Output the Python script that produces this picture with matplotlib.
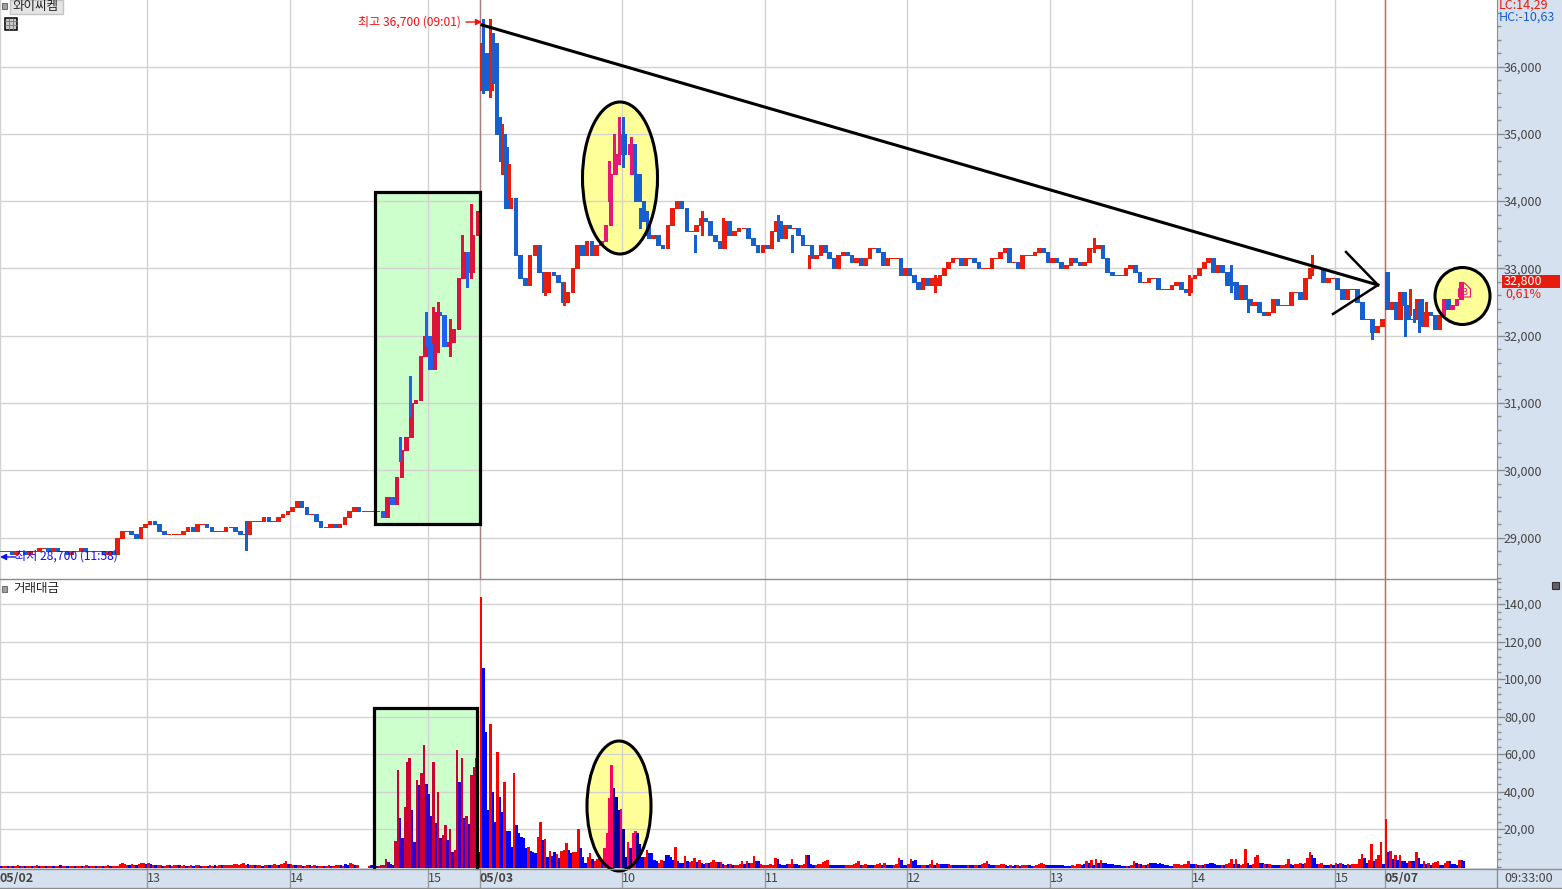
import numpy as np
import matplotlib
matplotlib.use("Agg")
import matplotlib.pyplot as plt
from matplotlib.patches import Rectangle, Ellipse, Polygon
from matplotlib.transforms import Affine2D
from matplotlib.ticker import MultipleLocator, FixedLocator

plt.rcParams['font.family'] = ['Noto Sans CJK KR', 'DejaVu Sans']

# ---------- sessions: (start minute, end minute) on the bar axis ----------
span_0212 = (0, 62)
span_0213 = (62, 122)
span_0214 = (122, 180)
span_0215 = (180, 202)
span_0309 = (202, 262)
span_0310 = (262, 322)
span_0311 = (322, 382)
span_0312 = (382, 442)
span_0313 = (442, 502)
span_0314 = (502, 562)
span_0315 = (562, 583)
span_0709 = (583, 616)

# ---------- closes ----------
close_0212 = [28800,28800,28750,28800,28800,28750,28800,28800,28850,28850,28800,28850,28800,28800,28750,28800,
              28800,28850,28800,28800,28800,28800,28750,28800,28750,29000,29100,29100,29050,29000,29150,29200]
close_0213 = [29250,29200,29100,29050,29050,29050,29050,29100,29150,29100,29200,29200,29150,29100,29100,29100,
              29150,29150,29100,29050,29050,29250,29250,29250,29300,29250,29250,29300,29350,29400]
close_0214 = [29450,29550,29450,29350,29350,29250,29150,29150,29200,29150,29200,29300,29400,29450,29400,29400,
              29400,29400,29400,29300,29600,29500,29900,30300,30500,31000,31050,31700,32000]
close_0215 = [31500,32350,32300,31850,31900,32100,32850,33250,32950,33500,33850]
close_0309 = [36200,35650,36350,35000,34800,33900,34050,33200,32850,32750,33200,33350,32950,32650,32950,32900,
              32800,32500,32650,33000,33350,33200,33400,33200,33350,33400,33650,34400,34700,35000]
close_0310 = [34700,34850,34400,34000,33700,33450,33500,33350,33300,33650,33900,34000,33900,33550,33550,33650,
              33750,33700,33500,33400,33300,33700,33500,33550,33600,33600,33450,33350,33250,33350]
close_0311 = [33300,33550,33700,33450,33650,33600,33600,33500,33350,33350,33150,33200,33350,33250,33150,33000,
              33200,33250,33200,33100,33150,33050,33150,33300,33300,33250,33050,33150,33150,33150,32900,33000]
close_0312 = [32900,32800,32700,32850,32750,32850,32750,32900,33000,33100,33150,33150,33050,33150,33150,33100,
              33000,33000,33000,33150,33150,33250,33300,33100,33100,33000,33200,33200,33200,33250,33300,33250,33100]
close_0313 = [33150,33100,33000,33050,33150,33100,33050,33100,33300,33300,33350,33150,32950,32900,32900,32900,
              33000,33050,32950,32800,32800,32850,32850,32700,32700,32700,32750,32800,32700,32650,32850]
close_0314 = [32900,33000,33100,33150,32950,33050,32950,32750,32800,32550,32750,32550,32450,32500,32350,32300,
              32350,32550,32450,32450,32450,32650,32650,32550,32850,33000,33000,33000,32800,32850,32850]
close_0315 = [32700,32550,32700,32700,32500,32250,32250,32050,32150,32250]
close_0709 = [32400,32500,32250,32650,32450,32250,32250,32550,32150,32350,32300,32100,32300,32550,32400,32450,
              32550,32800]
open_0309 = 35800
open_0709 = 32950

# ---------- wicks: minute, low, high, rising ----------
wick_min  = [103,168,172,179,182,184,189,194,196,198,202,203,206,207,210,211,212,214,229,237,256,258,260,262,265,267,269,272,
             292,295,304,327,333,340,393,460,500,518,525,552,577,591,593,595,597,600]
wick_low  = [28820,30130,30800,31850,31900,31750,31700,32980,32730,32850,35650,35600,35550,35750,34600,34400,33950,34050,32600,32450,34000,34450,34550,34500,34400,34000,33600,33500,
             33250,33500,33300,33400,33250,33000,32650,33250,32600,32650,32350,32900,31950,32000,32300,32200,32050,32200]
wick_high = [29250,30500,31400,32350,32430,32500,32250,33500,33100,33950,36350,36700,36700,36500,35250,35150,35000,34550,32950,32800,34600,35000,35250,35250,34950,34450,33900,33850,
             33500,33850,33750,33800,33500,33200,32900,33450,32900,33050,32550,33200,32250,32500,32700,32400,32500,32500]
wick_up   = [0,0,0,0,1,1,1,1,0,1,1,0,1,0,0,1,0,1,1,1,1,1,1,0,1,0,0,0,
             0,1,1,0,0,1,1,1,1,0,0,1,0,0,1,0,0,1]

# ---------- traded value per minute, + rising / - falling ----------
vol_0212 = [-.5,.5,.4,-.5,.5,-.4,.5,.6,-.5,.4,-.5,.5,.4,-.4,.5,.6,-.5,.5,.4,-.5,.4,.5,-.4,.5,.4,-.6,.5,.4,-.5,.4,.5,-.4,
            .5,.4,-.4,.5,.6,-.5,.4,.5,-.4,.5,.4,-.5,.5,.6,-.4,.4,.5,.5,1.5,2,1.2,1,-.8,1.5,1,-1,1.2,1.8,2,-1.5,
            2,-1.2,1,-.8,1,.6,-.5,.5,.6,-.6,.5,1,.8,-.6,.5,.8,-.5,.5,.6,-.5,.6,.8,-.5,.5,.5,-.5,.6,.5,-.6,.5,
            .6,-.8,.8,.6,.6,1,1.5,1.2,.8,1.5,2,1,-1.5,.8,.6,-.6,.8,.6,-.5,1,.8,-.8,1,1.5,1,-.8,1.5,2,3,-1.5,
            1.2,.8,-.8,.6,.6,-.5,.5,.8,-.6,.5,.6,-.4,.5,.4,-.5,.5,.6,-.4,.5,1,.8,-1,.5,-1.5,-1,2,1.2,-.8,.6]
vol_active = [.5,-.6,-.5,-.5,.5,1,1,4,-2.5,-1.5,-1,13.7,51.5,-25.8,-15,32,56,58,-30,-13,46,-43.5,50,65,-44,-38.5,-27,56,
              -23,40,-15,17,22,-14,20,-8,9,62,-45,58,-26,27,-22.5,49,53,58,-8,143.7,-106,-72,-30,76,-40,-23.5,61,-37,-29,45,
              -19,-19,-10.5,50,-22,-18,-16,-15,-10,10.5,-8.5,-7.5,-7,15.5,23.5,-14,14.5,-5.3,8.5,-5.7,-7.8,6.8,-4.8,8.5,9,12.5,-9,-7,8,8,
              20,-10,-5,-2,5,7,-4,3,4,5,-3.5,10,18,36.5,54,-42,-37,-30,30.5,-20,-5,13,-10,18,19,-18,-12,-5,5,9,-7,-7,-3.5,-3,2]
vol_0310 = [3.5,-3,-6,-6,-5,-3.5,10.5,-3,-2,-2,5.7,-3,2.5,3,4.8,-2.5,3.5,-2,-1.5,2,-2,2.5,3.5,2.5,-2.5,2.5,-1.5,1,-1.5,1.5,-1,1,1,1.2,2.7,-1.5,2.8,-2,2,5.7,-2.8,-3.2,1.2,1]
vol_0311 = [1,1,1.5,1,4.8,-4,-1.2,-1,-1,-1.2,1.5,4,-1.3,-1.3,-1,1,1.5,6.4,-6.4,-1.3,-1,1,1.5,1.6,2.5,3,3.7,-1,-.8,-.8,
            -.8,-.8,-.8,-.8,1,1,1,1.5,2,2.7,-.8,1,1.5,-1,-.8,-.8,1,1.5,1.8,-1,1.8,-1,-.8,-.8,1,1.5,4.8,-3.5,-1,-1]
vol_0312 = [1.5,4.2,-3,-3.7,-1,-.8,1,1,-.8,1.2,3.7,-1,2,1.5,-1.5,-1.5,-1.2,1.5,1,-.8,-.8,-1,-1,-.8,-.7,1,-.8,-.7,1,1,
            -.7,1.5,1.8,2.7,-1.5,-1,-.6,1,1,1.2,1.2,-.6,-.5,1,-.5,-.6,1,-.5,1,1,1,-.6,-.5,.5,1,1.2,2,1.4,-1,-1]
vol_0313 = [-.8,-.8,-.8,-.8,-.8,-.8,-.5,-.5,-.5,1,.5,1.2,1.5,-1,-1.5,3.2,-2,3.7,-1,4.2,-2,3.7,-2,-2,-1.5,-1.5,-1.2,-.8,-.8,-.7,
            -.5,-.5,.5,-.5,1,3.2,-2,1.5,-1.2,1,-1,1.5,-2,-1.8,-2,-1.5,-1.8,-1.3,-1,-.6,-.5,-.5,1.5,1.5,1.2,.8,1.2,1.5,2.7,-1.5]
vol_0314 = [-1.2,1.5,-1,1,-1,1.2,-1.5,-1.8,-1.8,-1.3,-1,-.8,1,-.6,1.5,1.8,4.2,-1.5,4,-1.5,1,1.5,9.6,-2,-1,1.5,5,6.4,-2,-2,
            1.5,-1.5,1.2,-1,-1,-.8,-.8,1,1,1.2,4.2,-1.5,-1,1.5,1.2]
vol_close = [2,-1.2,2,4.8,7.5,-6,-4.3,-1.5,1.2,2,-.8,-.8,-.8,1.5,-.8,2,-1.2,2,-1.5,-.8,1.5,-.8,1.5,1.5,1.5,4,6.5,-4.8,-2,3.5,12.2,-2.7,4,6,13.3,-1.5,25.6,
             -7.5,8.5,-4,6.2,-3.7,6.2,-3,-3,-2,3,-2.7,-2.7,8,-4.3,-1.5,3,-1.5,2,-.8,2,2.5,3,-.8,-.8,2,3,-2.7,-1.5,-1.5,-.8,3.7,-3.7,-3]
vol_starts = [0, 155, 278, 322, 382, 442, 502, 547]

grid_minutes = [0,62,122,180,202,262,322,382,442,502,562,583]
grid_labels = ['05/02','13','14','15','05/03','10','11','12','13','14','15','05/07']
price_ticks = [29000,30000,31000,32000,33000,34000,35000,36000]
price_labels = ['29,000','30,000','31,000','32,000','33,000','34,000','35,000','36,000']
vol_ticks = [20,40,60,80,100,120,140]
vol_labels = ['20,00','40,00','60,00','80,00','100,00','120,00','140,00']

W, H = 1562, 889
AX_R = 1497
PANEL = 579
BOT = 868
STRIP = '#d6e1ef'
GRID = '#d2d2d2'
INK = '#454545'

fig = plt.figure(figsize=(W/100, H/100), dpi=100, facecolor=STRIP)
ax_p = fig.add_axes([0, 1-PANEL/H, AX_R/W, PANEL/H], facecolor='white')
ax_v = fig.add_axes([0, 1-BOT/H, AX_R/W, (BOT-PANEL)/H], facecolor='white')
px_tf = Affine2D().scale(1/W, -1/H).translate(0, 1) + fig.transFigure

xlim = (0, AX_R/2.375)
ax_p.set_xlim(xlim); ax_v.set_xlim(xlim)
ax_p.set_ylim(36000-(PANEL-66.5)/0.06729, 36000+66.5/0.06729)
ax_v.set_ylim(-0.8, 140+25/1.875)
VOL_FLOOR = -0.8

# ---------- assemble candles ----------
sessions = [(span_0212, close_0212), (span_0213, close_0213), (span_0214, close_0214), (span_0215, close_0215),
            (span_0309, close_0309), (span_0310, close_0310), (span_0311, close_0311), (span_0312, close_0312),
            (span_0313, close_0313), (span_0314, close_0314), (span_0315, close_0315), (span_0709, close_0709)]
cx, co, cc = [], [], []
prev = close_0212[0]
for (a, b), vals in sessions:
    if vals is close_0309: prev = open_0309
    if vals is close_0709: prev = open_0709
    step = (b-a)/len(vals)
    for i, c in enumerate(vals):
        cx.append(a+(i+0.5)*step); co.append(prev); cc.append(c); prev = c
cx, co, cc = map(np.array, (cx, co, cc))

vx, vv = [], []
for s, lst in zip(vol_starts, [vol_0212, vol_active, vol_0310, vol_0311, vol_0312, vol_0313, vol_0314, vol_close]):
    for i, v in enumerate(lst):
        vx.append(s+i+0.5); vv.append(v)
vx, vv = np.array(vx), np.array(vv)
wm, wl, wh, wu = map(np.array, (wick_min, wick_low, wick_high, wick_up))


def candles(rc, bc, z, clip=None):
    up = cc >= co
    cols = [rc if u else bc for u in up]
    bars = ax_p.bar(cx, cc-co, bottom=co, width=1.55, color=cols, edgecolor=cols, linewidth=0.72,
                    zorder=z, antialiased=False)
    wk = ax_p.vlines(wm+0.5, wl, wh, colors=[rc if u else bc for u in wu], linewidth=0.8, zorder=z, antialiased=False)
    if clip is not None:
        wk.set_clip_path(clip)
        for r in bars:
            r.set_clip_path(clip)


def volumes(rc, bc, z, clip=None):
    cols = [rc if v > 0 else bc for v in vv]
    bars = ax_v.bar(vx, np.abs(vv)-VOL_FLOOR, bottom=VOL_FLOOR, width=1.02, color=cols, linewidth=0,
                    zorder=z, antialiased=False)
    if clip is not None:
        for r in bars:
            r.set_clip_path(clip)


# ---------- marked-up shapes (screen annotations, fill layer) ----------
def rect(x0, y0, x1, y1, **kw):
    return Rectangle((x0, y0), x1-x0, y1-y0, transform=px_tf, **kw)

def ell(cx_, cy_, w, h, **kw):
    return Ellipse((cx_, cy_), w, h, transform=px_tf, **kw)

GREEN, YELLOW = '#ccffcc', '#ffff99'
p_green = rect(375, 192, 480, 524, fc=GREEN, ec='none', zorder=1); ax_p.add_patch(p_green)
p_yell = ell(620, 178, 75, 152, fc=YELLOW, ec='none', zorder=1); ax_p.add_patch(p_yell)
p_yell2 = ell(1462.5, 296, 55, 57, fc=YELLOW, ec='none', zorder=1); ax_p.add_patch(p_yell2)
v_green = rect(373.5, 708, 476.5, 880, fc=GREEN, ec='none', zorder=1); ax_v.add_patch(v_green)
v_yell = ell(619, 806, 64, 130, fc=YELLOW, ec='none', zorder=1); ax_v.add_patch(v_yell)

candles('#ea1c0a', '#1560cc', 3)
candles('#dc143c', '#2060f0', 3.1, p_green)
candles('#e6177a', '#1560cc', 3.1, p_yell)
candles('#e6177a', '#1560cc', 3.1, p_yell2)
volumes('#ff0000', '#0000ff', 3)
volumes('#cc0033', '#3300cc', 3.1, v_green)
volumes('#ff0066', '#000099', 3.1, v_yell)

# ---------- axes ----------
for ax in (ax_p, ax_v):
    for s in ('top', 'left', 'bottom'):
        ax.spines[s].set_visible(False)
    ax.spines['right'].set_color('#8c8c8c')
    ax.yaxis.tick_right()
    ax.set_xticks(grid_minutes)
    ax.grid(True, color=GRID, linewidth=1.0, zorder=2)
    ax.set_axisbelow(False)
    ax.tick_params(axis='y', which='major', length=6, width=1, color='#8c8c8c', labelcolor=INK, labelsize=9, pad=-1)
    ax.tick_params(axis='y', which='minor', length=3, width=1, color='#8c8c8c')
ax_p.set_yticks(price_ticks, price_labels)
ax_p.yaxis.set_minor_locator(MultipleLocator(200))
ax_p.tick_params(axis='x', length=0, labelbottom=False)
ax_v.set_yticks(vol_ticks, vol_labels)
ax_v.yaxis.set_minor_locator(MultipleLocator(4))
ax_v.set_xticklabels(grid_labels)
ax_v.tick_params(axis='x', length=0, pad=3, labelcolor=INK, labelsize=9)
for lab, txt in zip(ax_v.get_xticklabels(), grid_labels):
    lab.set_ha('left')
    if '/' in txt:
        lab.set_fontweight('bold')
ax_v.vlines(grid_minutes[1:], -0.07, 0, transform=ax_v.get_xaxis_transform(), colors='#9a9a9a', linewidth=1, clip_on=False)

for ax in (ax_p, ax_v):
    ax.axvline(583.2, color='#e85a50', linewidth=1, zorder=2.6)
ax_p.axvline(202, color='#a88080', linewidth=1, zorder=2.6)

# ---------- overlay in screen pixels ----------
ov = fig.add_axes([0, 0, 1, 1], facecolor='none', zorder=10)
ov.set_xlim(0, W); ov.set_ylim(H, 0); ov.axis('off')

for x0, y0, x1, y1 in [(375, 192, 480, 524)]:
    ov.add_patch(Rectangle((x0, y0), x1-x0, y1-y0, fc='none', ec='black', lw=2.3))
ov.plot([373.5, 373.5, 476.5, 476.5], [868, 708, 708, 868], color='black', lw=2.3, solid_joinstyle='miter')
for c, w, h in [((620, 178), 75, 152), ((1462.5, 296), 55, 57), ((619, 806), 64, 130)]:
    ov.add_patch(Ellipse(c, w, h, fc='none', ec='black', lw=2.2))
ov.plot([482, 1378], [25, 285], color='black', lw=2.2)
ov.plot([1346, 1378, 1333], [252, 285, 314], color='black', lw=1.8)

# strips and separators
ov.plot([0, AX_R], [579, 579], color='#8c8c8c', lw=1)
ov.plot([0, W], [869, 869], color='#8c8c8c', lw=1)
ov.plot([0, W], [888, 888], color='#8c8c8c', lw=1)
ov.plot([AX_R, AX_R], [868, 889], color='#8c8c8c', lw=1)

# high / low notes
ov.text(358, 22, '최고 36,700 (09:01)', color='#f01010', fontsize=8.7, va='center', ha='left')
ov.annotate('', xy=(482, 22), xytext=(466, 22), arrowprops=dict(arrowstyle='-|>', color='#f01010', lw=1, shrinkA=0, shrinkB=0, mutation_scale=9))
ov.text(15, 556, '최저 28,700 (11:58)', color='#1010f0', fontsize=8.7, va='center', ha='left')
ov.annotate('', xy=(0, 557), xytext=(16, 557), arrowprops=dict(arrowstyle='-|>', color='#1010f0', lw=1, shrinkA=0, shrinkB=0, mutation_scale=9))

# title bits
ov.add_patch(Rectangle((9.5, 0), 53, 13.5, fc='#e4e4e4', ec='#c4c4c4', lw=1))
ov.text(13, 6.5, '와이씨켐', color='#222222', fontsize=9, va='center', ha='left')
ov.add_patch(Rectangle((2, 3), 5, 6, fc='#a0a0a0', ec='#707070', lw=0.8))
ov.add_patch(Rectangle((4.5, 17.5), 12.5, 12.5, fc='#c8c8c8', ec='black', lw=1.1))
for d in (8, 12):
    ov.plot([d+0.5, d+0.5], [19, 29], color='#777777', lw=0.6)
for d in (21, 25):
    ov.plot([5, 16.5], [d, d], color='#777777', lw=0.6)
ov.add_patch(Rectangle((2, 585.5), 5, 6, fc='#a0a0a0', ec='#707070', lw=0.8))
ov.text(13, 588.5, '거래대금', color='#222222', fontsize=9, va='center', ha='left')
ov.add_patch(Rectangle((1552, 582), 7, 7, fc='#606060', ec='#303030', lw=0.8))

# right-hand readouts
ov.text(1499, 5, 'LC:14,29', color='#e81c0c', fontsize=9, va='center', ha='left')
ov.text(1499, 17, 'HC:-10,63', color='#1560cc', fontsize=9, va='center', ha='left')
ov.add_patch(Rectangle((1502, 275), 58, 13, fc='#e81c0c', ec='none'))
ov.text(1504, 281.5, '32,800', color='white', fontsize=9, va='center', ha='left')
ov.text(1505, 294, '0,61%', color='#e81c0c', fontsize=9, va='center', ha='left')
ov.text(1504, 878.5, '09:33:00', color=INK, fontsize=9, va='center', ha='left')

# buy marker
ov.add_patch(Polygon([(1458.5, 289), (1464.5, 283), (1470.5, 289), (1470.5, 297), (1458.5, 297)], closed=True, fc='none', ec='#e6177a', lw=0.8))
ov.text(1464.5, 292.5, 'B', color='#e6177a', fontsize=6.5, va='center', ha='center')

fig.savefig('out.png', dpi=100, facecolor=fig.get_facecolor())
